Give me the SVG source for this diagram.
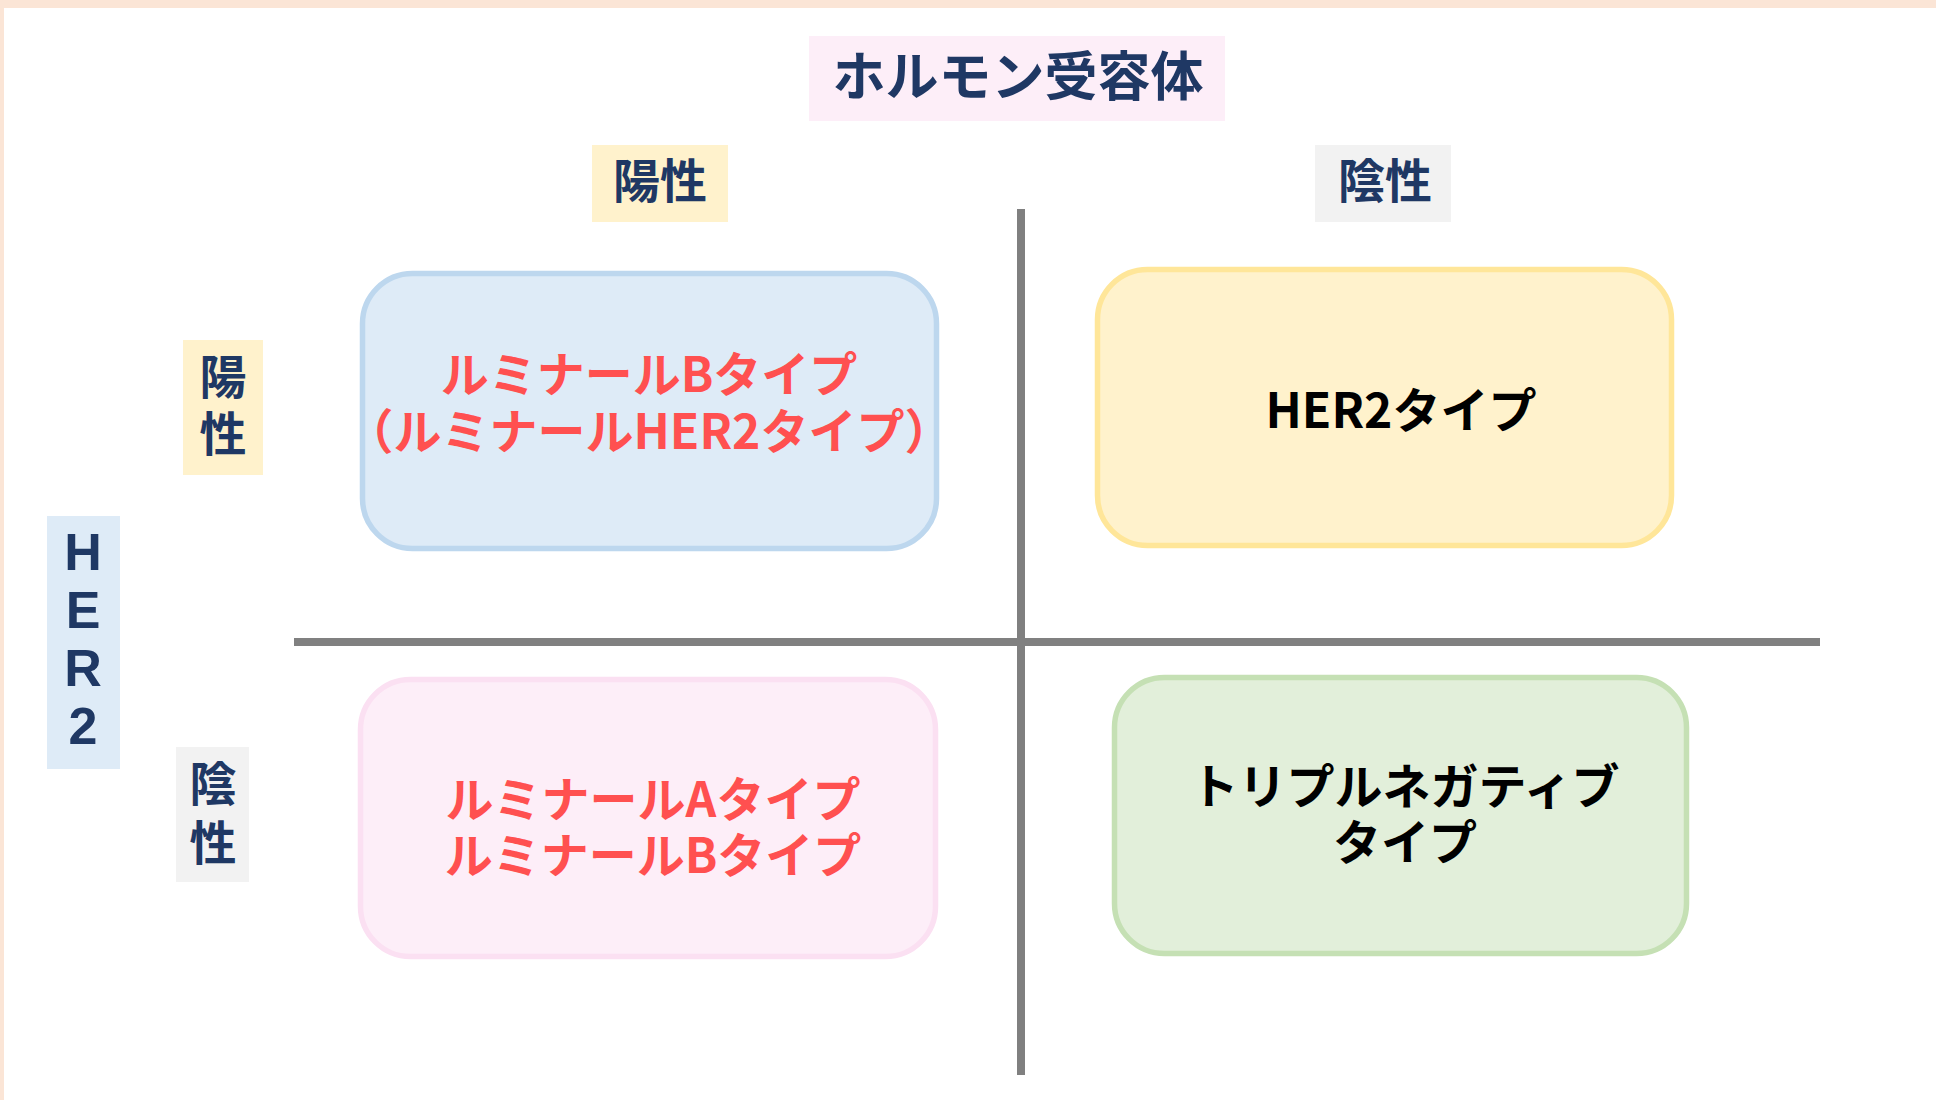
<svg xmlns="http://www.w3.org/2000/svg" width="1936" height="1100" viewBox="0 0 1936 1100">
<style>
.lbl{font-family:"Noto Sans CJK JP","Noto Sans CJK SC",sans-serif;font-weight:700;fill:#1f3864;text-anchor:middle}
.her{font-family:"Liberation Sans",Arial,sans-serif;font-weight:700;fill:#1f3864;text-anchor:middle;font-size:52px}
.box{stroke-width:5.5}
.red{font-family:"Noto Sans CJK JP","Noto Sans CJK SC",sans-serif;font-weight:700;fill:#ff5050;text-anchor:middle;font-size:48px}
.blk{font-family:"Noto Sans CJK JP","Noto Sans CJK SC",sans-serif;font-weight:700;fill:#000000;text-anchor:middle;font-size:48px}
.axis{stroke:#808080;stroke-width:8;fill:none}
</style>
<rect x="0" y="0" width="1936" height="1100" fill="#ffffff"/>
<rect x="0" y="0" width="1936" height="8" fill="#fbe5d6"/>
<rect x="0" y="0" width="4" height="1100" fill="#fbe5d6"/>

<g id="connectors">
<line class="axis" x1="1021" y1="209" x2="1021" y2="1075"/>
<line class="axis" x1="294" y1="642" x2="1820" y2="642"/>
</g>

<g id="title">
<rect x="809" y="36" width="416" height="85" fill="#fdeef8"/>
<text class="lbl" x="1018" y="96" font-size="53">ホルモン受容体</text>
</g>

<g id="hr-pos">
<rect x="592" y="145" width="136" height="77" fill="#fff2cc"/>
<text class="lbl" x="660" y="198" font-size="47">陽性</text>
</g>
<g id="hr-neg">
<rect x="1315" y="145" width="136" height="77" fill="#f2f2f2"/>
<text class="lbl" x="1385" y="198" font-size="47">陰性</text>
</g>

<g id="her2-label">
<rect x="47" y="516" width="73" height="253" fill="#deebf7"/>
<text class="her" x="83" y="570">H</text>
<text class="her" x="83" y="628">E</text>
<text class="her" x="83" y="686">R</text>
<text class="her" x="83" y="744">2</text>
</g>
<g id="her2-pos">
<rect x="183" y="340" width="80" height="135" fill="#fff2cc"/>
<text class="lbl" x="223" y="394" font-size="47">陽</text>
<text class="lbl" x="223" y="451" font-size="47">性</text>
</g>
<g id="her2-neg">
<rect x="176" y="747" width="73" height="135" fill="#f2f2f2"/>
<text class="lbl" x="213" y="801" font-size="47">陰</text>
<text class="lbl" x="213" y="860" font-size="47">性</text>
</g>

<g id="luminal-b-her2">
<rect class="box" x="362.5" y="273.5" width="574" height="275" rx="50" ry="50" fill="#deebf7" stroke="#bdd7ee"/>
<text class="red" x="649" y="392">ルミナールBタイプ</text>
<text class="red" x="649" y="449">（ルミナールHER2タイプ）</text>
</g>

<g id="her2-type">
<rect class="box" x="1097.5" y="269.5" width="574" height="276" rx="50" ry="50" fill="#fff2cc" stroke="#ffe699"/>
<text class="blk" x="1401" y="428">HER2タイプ</text>
</g>

<g id="luminal-ab">
<rect class="box" x="360.5" y="679.5" width="575" height="277" rx="50" ry="50" fill="#fdeef8" stroke="#fbe0f2"/>
<text class="red" x="653" y="817">ルミナールAタイプ</text>
<text class="red" x="653" y="873">ルミナールBタイプ</text>
</g>

<g id="triple-negative">
<rect class="box" x="1114.5" y="677.5" width="572" height="276" rx="50" ry="50" fill="#e2efda" stroke="#c5e0b4"/>
<text class="blk" x="1405" y="804">トリプルネガティブ</text>
<text class="blk" x="1405" y="860">タイプ</text>
</g>
</svg>
